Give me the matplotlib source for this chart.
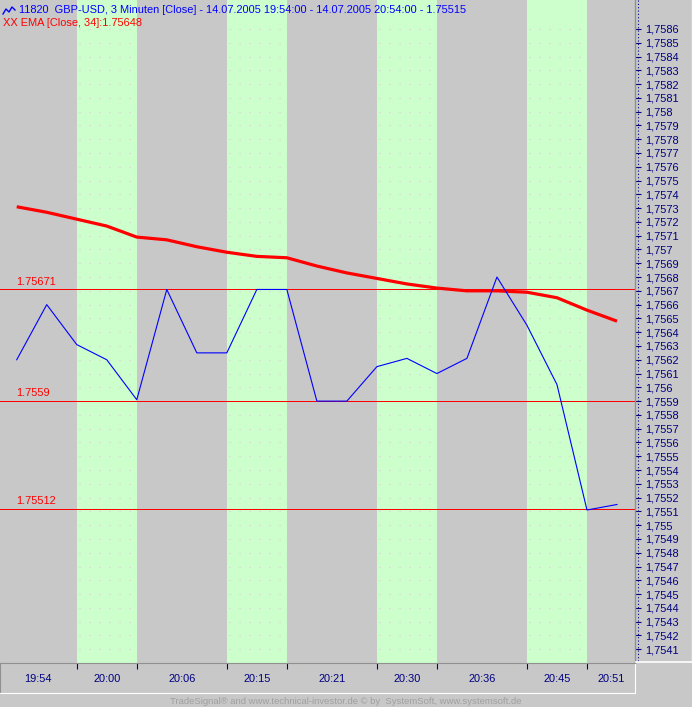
"""
GBP-USD 3 minute chart with EMA(34) and horizontal marker lines
"""
# import packages
import matplotlib
matplotlib.use('Agg')
import matplotlib.pyplot as plt
from matplotlib.lines import Line2D


# ###
# 1.Data
# ###
bar_times = ['19:54', '19:57', '20:00', '20:03', '20:06', '20:09', '20:12',
             '20:15', '20:18', '20:21', '20:24', '20:27', '20:30', '20:33',
             '20:36', '20:39', '20:42', '20:45', '20:48', '20:51', '20:54']

close_values = [1.75620, 1.75660, 1.75631, 1.75620, 1.75591, 1.75671, 1.75625,
                1.75625, 1.75671, 1.75671, 1.75590, 1.75590, 1.75615, 1.75621,
                1.75610, 1.75621, 1.75680, 1.75645, 1.75602, 1.75511, 1.75515]

ema_values = [1.75731, 1.75727, 1.75722, 1.75717, 1.75709, 1.75707, 1.75702,
              1.75698, 1.75695, 1.75694, 1.75688, 1.75683, 1.75679, 1.75675,
              1.75672, 1.75670, 1.75670, 1.75669, 1.75665, 1.75656, 1.75648]

marker_levels = [1.75671, 1.7559, 1.75512]
marker_labels = ['1.75671', '1.7559', '1.75512']

# shaded session bands (start time, end time)
band_starts = ['20:00', '20:15', '20:30', '20:45']
band_ends   = ['20:06', '20:21', '20:36', '20:51']

# right axis ticks
ytick_values = [round(1.7541 + 0.0001 * i, 4) for i in range(46)]

header_main = '11820  GBP-USD, 3 Minuten [Close] - 14.07.2005 19:54:00 - 14.07.2005 20:54:00 - 1.75515'
header_ema  = 'XX EMA [Close, 34]:1.75648'
footer_text = 'TradeSignal\u00ae and www.technical-investor.de \u00a9 by  SystemSoft, www.systemsoft.de'


# ###
# 2.Declare variables
# ###
FIG_W, FIG_H = 692, 707
PLOT_DPI     = 100
COLOR_BG     = '#c8c8c8'
COLOR_BAND   = '#ccffcc'
COLOR_GRID   = '#e2c4e2'
COLOR_BLUE   = '#0000ff'
COLOR_RED    = '#ff0000'
COLOR_NAVY   = '#000080'
FONT         = 'Liberation Sans'
TEXT_SIZE    = 7.9

# pixel layout of the original
PLOT_RIGHT   = 635
PLOT_BOTTOM  = 663
AXIS_BOTTOM  = 693
X_LIM        = (-0.557, 20.6)
Y_LIM        = (1.75400, 1.75881)


def fx(px):
    return px / FIG_W


def fy(py):
    return 1 - py / FIG_H


def fmt_price(v):
    s = '{0:.4f}'.format(v).rstrip('0')
    return s.replace('.', ',')


# ###
# 3.Draw figure
# ###
def draw_chart(image_path):
    fig = plt.figure(figsize=(FIG_W / PLOT_DPI, FIG_H / PLOT_DPI), dpi=PLOT_DPI, facecolor=COLOR_BG)

    # main price axes
    ax = fig.add_axes([0, fy(PLOT_BOTTOM), fx(PLOT_RIGHT), PLOT_BOTTOM / FIG_H])
    ax.set_facecolor(COLOR_BG)
    ax.set_xlim(*X_LIM)
    ax.set_ylim(*Y_LIM)

    idx = list(range(len(bar_times)))

    # session bands with dotted grid inside them
    for b0, b1 in zip(band_starts, band_ends):
        i0 = bar_times.index(b0)
        i1 = bar_times.index(b1)
        ax.axvspan(i0, i1, color=COLOR_BAND, zorder=0, lw=0)
        ax.hlines(ytick_values, i0 + 0.06, i1 - 0.06, colors=COLOR_GRID, linewidth=0.8,
                  linestyles=(0, (1, 8)), zorder=1)

    # marker lines
    for lvl, lab in zip(marker_levels, marker_labels):
        ax.axhline(lvl, color=COLOR_RED, linewidth=0.72, zorder=2, snap=True)
        ax.text(-0.02, lvl + 0.00002, lab, color=COLOR_RED, fontsize=TEXT_SIZE, family=FONT,
                ha='left', va='bottom', zorder=3)

    # series
    ax.plot(idx, ema_values, color=COLOR_RED, linewidth=2.3, zorder=4, solid_capstyle='butt')
    ax.plot(idx, close_values, color=COLOR_BLUE, linewidth=0.8, zorder=5)

    # right axis
    ax.yaxis.tick_right()
    ax.set_yticks(ytick_values)
    ax.set_yticklabels([fmt_price(v) for v in ytick_values])
    ax.tick_params(axis='y', which='major', direction='out', length=4, width=0.8,
                   color=COLOR_NAVY, labelcolor=COLOR_NAVY, labelsize=TEXT_SIZE, pad=3)
    for lbl in ax.get_yticklabels():
        lbl.set_family(FONT)
    ax.set_xticks([])
    for side in ['top', 'left', 'bottom']:
        ax.spines[side].set_visible(False)
    ax.spines['right'].set_color('#909090')
    ax.spines['right'].set_linewidth(1.0)

    # dotted navy line beside the price scale
    fig.add_artist(Line2D([fx(637.5), fx(637.5)], [fy(0), fy(662)], color=COLOR_NAVY,
                          linewidth=0.8, linestyle=(0, (1, 2))))
    # white frame of the price scale
    fig.add_artist(Line2D([fx(636), fx(692)], [fy(662), fy(662)], color='white', linewidth=1.2))
    fig.add_artist(Line2D([fx(691.5), fx(691.5)], [fy(0), fy(662)], color='white', linewidth=1.0))

    # time axis box
    tax = fig.add_axes([0, fy(AXIS_BOTTOM), fx(PLOT_RIGHT), (AXIS_BOTTOM - PLOT_BOTTOM) / FIG_H])
    tax.set_facecolor(COLOR_BG)
    tax.set_xlim(*X_LIM)
    tax.set_ylim(0, 1)
    bounds = []
    for b0, b1 in zip(band_starts, band_ends):
        bounds += [bar_times.index(b0), bar_times.index(b1)]
    tax.set_xticks(bounds)
    tax.set_xticklabels([])
    tax.set_yticks([])
    tax.xaxis.tick_top()
    tax.tick_params(axis='x', direction='in', length=4, width=0.8, color=COLOR_NAVY)
    tax.spines['top'].set_color('#909090')
    tax.spines['left'].set_color('#909090')
    tax.spines['bottom'].set_color('white')
    tax.spines['right'].set_color('white')

    edges = [X_LIM[0]] + bounds + [X_LIM[1]]
    seg_labels = [bar_times[0]] + [bar_times[b] for b in bounds]
    for k, lab in enumerate(seg_labels):
        xc = (edges[k] + edges[k + 1]) / 2
        tax.text(xc, 0.45, lab, color=COLOR_NAVY, fontsize=TEXT_SIZE, family=FONT,
                 ha='center', va='center')

    # header texts
    fig.add_artist(Line2D([fx(3), fx(6), fx(9), fx(12), fx(15)],
                          [fy(14), fy(9), fy(12), fy(7), fy(10)],
                          color=COLOR_BLUE, linewidth=1.0))
    fig.text(fx(19), fy(10), header_main, color=COLOR_BLUE, fontsize=TEXT_SIZE, family=FONT,
             ha='left', va='center')
    fig.text(fx(3), fy(23), header_ema, color=COLOR_RED, fontsize=TEXT_SIZE, family=FONT,
             ha='left', va='center')

    # footer
    fig.text(0.5, fy(701), footer_text, color='#a0a0a0', fontsize=6.8, family=FONT,
             ha='center', va='center')

    plt.savefig(image_path, dpi=PLOT_DPI, facecolor=COLOR_BG)
    plt.close(fig)


# ###
# 4.main function
# ###
def main_function():
    draw_chart('out.png')


if __name__ == '__main__':
    main_function()
